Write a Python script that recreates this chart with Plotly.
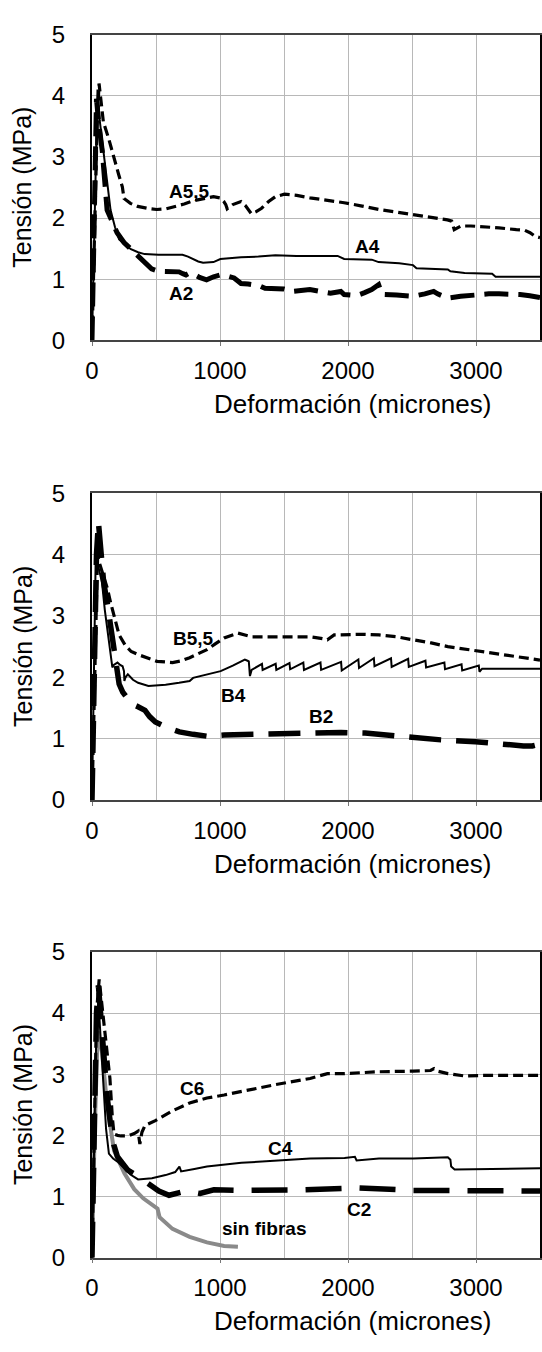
import plotly.graph_objects as go

# ---------------- data ----------------
# Panel A
a55_x = [0, 20, 40, 55, 70, 89, 130, 169, 210, 237, 250, 300, 357, 430, 505, 580, 653, 720, 788, 870, 949, 1000, 1030, 1045, 1056, 1100, 1164, 1200, 1230, 1245, 1280, 1325, 1380, 1433, 1503, 1600, 1702, 1840, 1970, 2100, 2239, 2370, 2508, 2650, 2777, 2810, 2830, 2884, 2960, 3046, 3180, 3315, 3380, 3422, 3462, 3500]
a55_y = [0, 1.8, 3.5, 4.2, 3.9, 3.57, 3.3, 2.99, 2.7, 2.51, 2.32, 2.24, 2.19, 2.16, 2.14, 2.15, 2.19, 2.23, 2.28, 2.32, 2.35, 2.33, 2.27, 2.22, 2.15, 2.22, 2.27, 2.2, 2.12, 2.07, 2.1, 2.16, 2.27, 2.35, 2.39, 2.37, 2.33, 2.29, 2.25, 2.2, 2.14, 2.1, 2.05, 2.01, 1.97, 1.95, 1.81, 1.87, 1.87, 1.86, 1.84, 1.81, 1.8, 1.76, 1.70, 1.68]

a4_x = [0, 15, 30, 43, 60, 91, 120, 145, 180, 212, 260, 304, 360, 411, 519, 600, 707, 750, 788, 830, 868, 910, 949, 1003, 1164, 1300, 1433, 1597, 1919, 1970, 2186, 2239, 2400, 2508, 2535, 2780, 2800, 2911, 3126, 3153, 3500]
a4_y = [0, 1.5, 3.2, 4.1, 3.6, 3.09, 2.6, 2.13, 1.85, 1.65, 1.56, 1.49, 1.44, 1.41, 1.40, 1.40, 1.40, 1.37, 1.33, 1.29, 1.27, 1.27, 1.28, 1.33, 1.36, 1.37, 1.39, 1.38, 1.38, 1.33, 1.32, 1.28, 1.26, 1.23, 1.18, 1.16, 1.13, 1.10, 1.09, 1.04, 1.04]

a2_x = [0, 15, 35, 50, 80, 118, 160, 196, 250, 304, 360, 411, 465, 520, 573, 630, 680, 710, 734, 760, 788, 840, 895, 950, 1003, 1060, 1110, 1140, 1164, 1220, 1272, 1310, 1352, 1433, 1500, 1567, 1640, 1702, 1780, 1863, 1944, 1970, 2020, 2078, 2130, 2185, 2239, 2266, 2380, 2508, 2600, 2669, 2700, 2777, 2880, 2992, 3100, 3180, 3260, 3344, 3420, 3476, 3500]
a2_y = [0, 1.8, 3.95, 3.6, 3.1, 2.13, 1.95, 1.76, 1.6, 1.49, 1.38, 1.28, 1.17, 1.13, 1.12, 1.12, 1.12, 1.09, 1.07, 1.10, 1.09, 1.03, 0.99, 1.04, 1.07, 1.05, 1.02, 0.97, 0.93, 0.92, 0.91, 0.89, 0.85, 0.85, 0.84, 0.80, 0.82, 0.83, 0.80, 0.77, 0.80, 0.75, 0.74, 0.74, 0.78, 0.83, 0.91, 0.75, 0.74, 0.72, 0.76, 0.80, 0.76, 0.69, 0.72, 0.75, 0.76, 0.76, 0.76, 0.75, 0.73, 0.70, 0.70]

# Panel B
b55_x = [0, 15, 30, 43, 60, 91, 120, 145, 180, 212, 260, 306, 360, 414, 508, 629, 700, 763, 830, 898, 960, 1032, 1140, 1247, 1435, 1704, 1800, 1839, 1892, 2000, 2108, 2242, 2380, 2511, 2650, 2780, 2910, 3048, 3180, 3317, 3420, 3500]
b55_y = [0, 1.5, 3.3, 4.0, 3.85, 3.65, 3.45, 3.22, 2.95, 2.69, 2.52, 2.42, 2.37, 2.33, 2.26, 2.24, 2.27, 2.32, 2.38, 2.45, 2.54, 2.64, 2.72, 2.66, 2.66, 2.66, 2.63, 2.61, 2.69, 2.70, 2.70, 2.69, 2.66, 2.61, 2.56, 2.50, 2.46, 2.42, 2.38, 2.34, 2.30, 2.28]

b4_x = [0, 12, 30, 50, 78, 100, 118, 140, 159, 170, 199, 220, 239, 250, 253, 262, 280, 320, 360, 441, 575, 680, 763, 790, 900, 1005, 1100, 1194, 1215, 1225, 1234, 1247,
        1328, 1333, 1435, 1440, 1543, 1548, 1651, 1656, 1785, 1790, 1946, 1951, 2081, 2086, 2202, 2207, 2336, 2341, 2470, 2475, 2605, 2610, 2753, 2758, 2887, 2892, 3022, 3027, 3048, 3500]
b4_y = [0, 1.5, 4.1, 3.8, 3.55, 3.1, 2.80, 2.45, 2.16, 2.2, 2.24, 2.2, 2.18, 2.1, 1.94, 2.0, 2.05, 1.96, 1.91, 1.86, 1.88, 1.91, 1.94, 1.99, 2.05, 2.10, 2.19, 2.29, 2.27, 2.26, 2.02, 2.12,
        2.22, 2.12, 2.22, 2.12, 2.23, 2.13, 2.24, 2.12, 2.24, 2.12, 2.25, 2.11, 2.29, 2.15, 2.31, 2.18, 2.31, 2.17, 2.30, 2.17, 2.27, 2.16, 2.24, 2.13, 2.21, 2.11, 2.19, 2.09, 2.14, 2.14]

b2_x = [0, 15, 35, 50, 65, 91, 120, 145, 180, 212, 240, 266, 306, 360, 414, 450, 495, 575, 683, 790, 898, 1032, 1274, 1516, 1704, 1946, 2134, 2376, 2538, 2726, 2995, 3183, 3371, 3440, 3500]
b2_y = [0, 1.8, 4.0, 4.53, 4.2, 3.55, 3.2, 2.80, 2.3, 1.89, 1.76, 1.67, 1.57, 1.52, 1.46, 1.36, 1.27, 1.19, 1.11, 1.07, 1.04, 1.06, 1.07, 1.10, 1.09, 1.10, 1.09, 1.04, 1.01, 0.98, 0.95, 0.91, 0.88, 0.88, 0.91]

# Panel C
c6_x = [0, 15, 35, 56, 80, 105, 125, 140, 159, 172, 200, 226, 280, 330, 360, 370, 374, 390, 414, 495, 629, 763, 898, 1032, 1167, 1435, 1704, 1839, 1973, 2242, 2511, 2645, 2672, 2700, 2780, 2914, 3048, 3500]
c6_y = [0, 1.8, 4.0, 4.55, 4.1, 3.68, 3.3, 2.93, 2.29, 2.02, 2.0, 1.99, 1.99, 2.03, 2.07, 1.95, 1.86, 2.05, 2.16, 2.24, 2.40, 2.53, 2.61, 2.66, 2.72, 2.83, 2.93, 3.01, 3.01, 3.04, 3.05, 3.06, 3.09, 3.05, 3.01, 2.97, 2.98, 2.98]

c4_x = [0, 15, 35, 50, 70, 91, 110, 132, 165, 199, 253, 300, 360, 468, 575, 650, 683, 690, 696, 800, 898, 1167, 1435, 1704, 1973, 2054, 2067, 2242, 2511, 2780, 2800, 2806, 2833, 3048, 3500]
c4_y = [0, 1.7, 3.8, 4.2, 3.5, 2.72, 2.1, 1.70, 1.62, 1.57, 1.46, 1.36, 1.28, 1.30, 1.35, 1.40, 1.49, 1.45, 1.41, 1.45, 1.49, 1.55, 1.59, 1.62, 1.63, 1.65, 1.59, 1.62, 1.62, 1.64, 1.60, 1.49, 1.44, 1.45, 1.46]

c2_x = [0, 15, 35, 50, 70, 91, 120, 145, 170, 199, 240, 280, 360, 454, 522, 602, 680, 737, 790, 844, 952, 1167, 1651, 2081, 2511, 2995, 3500]
c2_y = [0, 1.8, 4.0, 4.45, 3.9, 3.25, 2.6, 2.18, 1.85, 1.65, 1.52, 1.43, 1.33, 1.19, 1.09, 1.02, 1.06, 1.09, 1.07, 1.05, 1.11, 1.10, 1.11, 1.14, 1.10, 1.09, 1.09]

sf_x = [0, 20, 45, 78, 118, 172, 253, 330, 400, 468, 512, 528, 629, 763, 898, 1032, 1140]
sf_y = [0, 2.0, 3.7, 3.36, 2.50, 1.75, 1.38, 1.12, 0.97, 0.86, 0.80, 0.66, 0.47, 0.34, 0.25, 0.19, 0.18]

x_ticks = [0, 1000, 2000, 3000]
y_ticks = [0, 1, 2, 3, 4, 5]
x_title = "Deformación (micrones)"
y_title = "Tensión (MPa)"

# ---------------- figure ----------------
W, H = 542, 1352
L = 92
FONT = "Liberation Sans, Arial, sans-serif"

# panel pixel extents (top, bottom)
panels = [(21, 333), (489, 802), (957, 1269)]

def py(p):
    return 1 - p / H

def px(p):
    return (p - L) / (W - L)

fig = go.Figure()

solid = dict(color="black", width=2)
short = dict(color="black", width=3.2, dash="10px,5px")
long_a = dict(color="black", width=5, dash="24px,10px")
long_b = dict(color="black", width=5.5, dash="32px,15px")
long_c = dict(color="black", width=5.5, dash="36px,18px")
gray = dict(color="#8a8a8a", width=4)

series = [
    (a55_x, a55_y, short, 1), (a4_x, a4_y, solid, 1), (a2_x, a2_y, long_a, 1),
    (b55_x, b55_y, short, 2), (b4_x, b4_y, solid, 2), (b2_x, b2_y, long_b, 2),
    (sf_x, sf_y, gray, 3), (c6_x, c6_y, short, 3), (c4_x, c4_y, solid, 3), (c2_x, c2_y, long_c, 3),
]
for xs, ys, ln, k in series:
    suffix = "" if k == 1 else str(k)
    fig.add_trace(go.Scatter(x=xs, y=ys, mode="lines", line=ln,
                             xaxis="x" + suffix, yaxis="y" + suffix,
                             showlegend=False, hoverinfo="skip"))

axis_font = dict(family=FONT, size=24, color="black")
for i, (top, bot) in enumerate(panels):
    k = i + 1
    xs = "" if k == 1 else str(k)
    fig.layout["xaxis" + xs] = dict(
        domain=[0, 1], anchor="y" + xs, range=[0, 3500],
        tickvals=x_ticks, ticks="outside", ticklen=4, tickcolor="#777",
        showgrid=True, gridcolor="#b8b8b8", gridwidth=1,
        minor=dict(dtick=500, tick0=0, showgrid=True, gridcolor="#b8b8b8", gridwidth=1, ticks=""),
        showline=True, linecolor="#444", linewidth=1.5, mirror=True,
        tickfont=axis_font, ticklabelstandoff=4, zeroline=False, fixedrange=True)
    fig.layout["yaxis" + xs] = dict(
        domain=[py(bot), py(top)], anchor="x" + xs, range=[0, 5],
        tickvals=y_ticks, ticks="",
        showgrid=True, gridcolor="#b8b8b8", gridwidth=1,
        showline=True, linecolor="black", linewidth=2, mirror=True,
        tickfont=axis_font, ticklabelstandoff=20, zeroline=False, fixedrange=True)

annotations = []
for i, (top, bot) in enumerate(panels):
    annotations.append(dict(text=y_title, xref="paper", yref="paper",
                            x=px(22), y=py((top + bot) / 2), textangle=-90,
                            showarrow=False, xanchor="center", yanchor="middle",
                            font=dict(family=FONT, size=25, color="black")))
    annotations.append(dict(text=x_title, xref="paper", yref="paper",
                            x=px(354), y=py(bot + 65),
                            showarrow=False, xanchor="center", yanchor="middle",
                            font=dict(family=FONT, size=26, color="black")))

lbl_font = dict(family=FONT, size=19, color="black")
labels = [
    ("<b>A5,5</b>", 760, 2.44, 1), ("<b>A4</b>", 2150, 1.54, 1), ("<b>A2</b>", 695, 0.77, 1),
    ("<b>B5,5</b>", 793, 2.64, 2), ("<b>B4</b>", 1103, 1.70, 2), ("<b>B2</b>", 1790, 1.36, 2),
    ("<b>C6</b>", 780, 2.77, 3), ("<b>C4</b>", 1470, 1.78, 3), ("<b>C2</b>", 2089, 0.79, 3),
    ("<b>sin fibras</b>", 1341, 0.48, 3),
]
for t, x, y, k in labels:
    s = "" if k == 1 else str(k)
    annotations.append(dict(text=t, x=x, y=y, xref="x" + s, yref="y" + s,
                            showarrow=False, xanchor="center", yanchor="middle",
                            font=lbl_font))

fig.update_layout(width=W, height=H, margin=dict(l=L, r=0, t=0, b=0),
                  paper_bgcolor="white", plot_bgcolor="white",
                  annotations=annotations, showlegend=False)

fig.write_html("out.html", config={"displayModeBar": False})
